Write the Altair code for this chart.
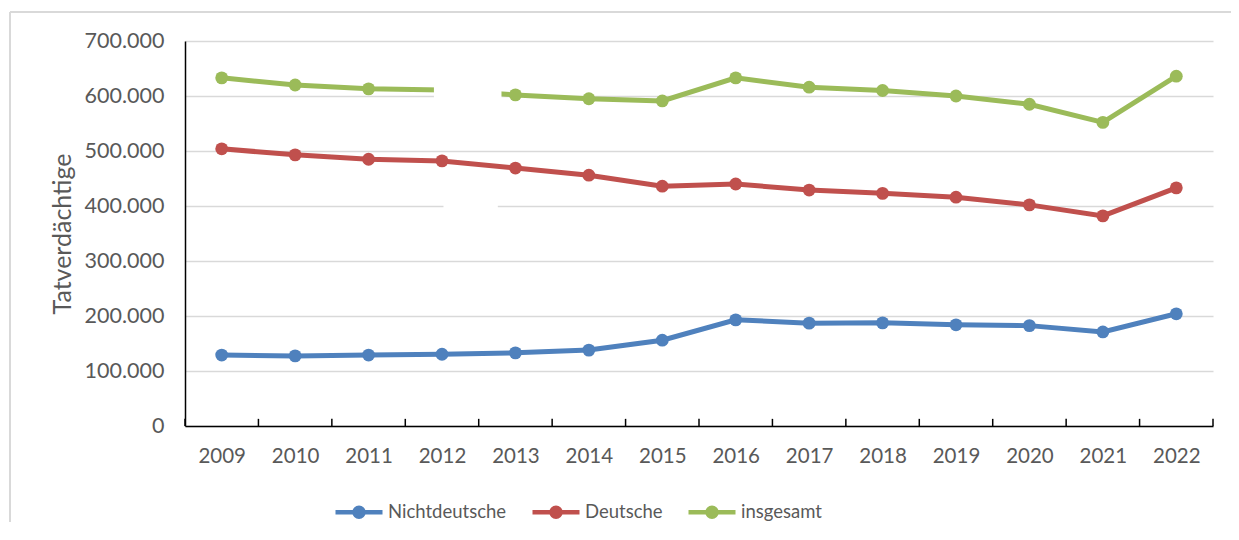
import altair as alt
import pandas as pd

years = list(range(2009, 2023))
nichtdeutsche = [129000, 127500, 129000, 130500, 133000, 138000, 156000, 193000, 187000, 187500, 184000, 182500, 171000, 204000]
deutsche = [504000, 493000, 485000, 482000, 469000, 456000, 436000, 440000, 429000, 423000, 416000, 402000, 382000, 433000]
insgesamt = [633000, 620000, 613000, 611000, 602000, 595000, 591000, 633000, 616000, 610000, 600000, 585000, 552000, 636000]

series_names = ["Nichtdeutsche", "Deutsche", "insgesamt"]
series_colors = ["#4F81BD", "#C0504D", "#9BBB59"]

rows = []
for name, vals in zip(series_names, [nichtdeutsche, deutsche, insgesamt]):
    for y, v in zip(years, vals):
        rows.append({"Jahr": y, "Wert": v, "Reihe": name})
df = pd.DataFrame(rows)

# category boundaries for the tick marks
boundaries = pd.DataFrame({"b": [y - 0.5 for y in years] + [years[-1] + 0.5]})

# white masks seen in the reference (covering part of the 2012 area)
masks = pd.DataFrame({
    "x1": [2011.89, 2012.02], "x2": [2012.81, 2012.76],
    "y1": [580000, 389000], "y2": [632000, 411000],
})

FONT = "Lato"
GREY = "#595959"

xscale = alt.Scale(domain=[2008.5, 2022.5], nice=False, zero=False)
yscale = alt.Scale(domain=[0, 700000], nice=False)

legend_path = ("M-1,0L1,0"
               "M-0.19,0a0.19,0.19 0 1,0 0.38,0a0.19,0.19 0 1,0 -0.38,0"
               "M-0.05,0a0.05,0.05 0 1,0 0.1,0a0.05,0.05 0 1,0 -0.1,0")

lines = alt.Chart(df).mark_line(
    strokeWidth=5,
    point=alt.OverlayMarkDef(filled=True, size=165, strokeWidth=0),
).encode(
    x=alt.X("Jahr:Q", scale=xscale, axis=alt.Axis(
        values=years, format="d", title=None, ticks=False, grid=False,
        labelFontSize=20.5, labelColor=GREY, labelFont=FONT, labelPadding=20,
        domainColor="#000000", domainWidth=1.5, labelFlush=False)),
    y=alt.Y("Wert:Q", scale=yscale, axis=alt.Axis(
        values=[i * 100000 for i in range(8)],
        labelExpr="replace(format(datum.value, ',d'), ',', '.')",
        title="Tatverdächtige", titleFontSize=25, titleColor=GREY, titleFont=FONT,
        titleFontWeight="normal", titleX=-123, titleBaseline="middle",
        labelFontSize=21.5, labelColor=GREY, labelFont=FONT, labelPadding=21,
        ticks=False, grid=True, gridColor="#D9D9D9", gridWidth=1.5,
        domainColor="#000000", domainWidth=1.5)),
    color=alt.Color("Reihe:N",
        scale=alt.Scale(domain=series_names, range=series_colors),
        sort=series_names,
        legend=alt.Legend(
            title=None, orient="none", legendX=148, legendY=445,
            direction="horizontal", symbolType=legend_path, symbolSize=2209,
            symbolStrokeWidth=4.5, labelFontSize=18.5, labelColor=GREY,
            labelFont=FONT, labelOffset=3, columnPadding=16, padding=0)),
)

ticks = alt.Chart(boundaries).mark_rule(color="#000000", strokeWidth=1.5).encode(
    x=alt.X("b:Q", scale=xscale),
    y=alt.datum(0),
    y2=alt.datum(13000),
)

mask = alt.Chart(masks).mark_rect(color="white").encode(
    x=alt.X("x1:Q", scale=xscale),
    x2="x2:Q",
    y=alt.Y("y1:Q", scale=yscale),
    y2="y2:Q",
)

frame_left = alt.Chart(boundaries).mark_rule(color="#D9D9D9", strokeWidth=1.5).encode(
    x=alt.value(-175), y=alt.value(-29), y2=alt.value(520))
frame_top = alt.Chart(boundaries).mark_rule(color="#D9D9D9", strokeWidth=1.5).encode(
    x=alt.value(-175), x2=alt.value(1060), y=alt.value(-29))

chart = alt.layer(frame_left, frame_top, lines, ticks, mask).properties(
    width=1028, height=385,
    autosize=alt.AutoSizeParams(type="none"),
    padding={"left": 177, "top": 33, "right": 18, "bottom": 96},
).configure_view(stroke=None)

chart.save("out.html", embed_options={"renderer": "svg", "actions": False})
